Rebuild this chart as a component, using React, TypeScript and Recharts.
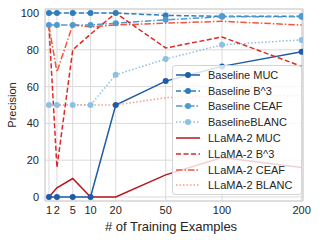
import React from 'react';
import {
  LineChart,
  Line,
  XAxis,
  YAxis,
  CartesianGrid,
  Legend,
  ReferenceArea,
} from 'recharts';

// training set sizes (x) and precision per metric (y)
const examples = [1, 2, 5, 10, 20, 50, 100, 200];
const baselineMuc = [0, 0, 0, 0, 50, 63, 71, 79];
const baselineB3 = [100, 100, 100, 100, 100, 98.7, 98.2, 98.2];
const baselineCeaf = [93.5, 93.5, 93.5, 93.5, 94.5, 96.3, 98, 98];
const baselineBlanc = [50, 50, 50, 50, 66.4, 75, 82.7, 85.4];
const llamaMuc = [0, 5, 10, 0, 0, 12, 21.5, 16];
const llamaB3 = [93, 16, 80, 88.5, 100, 81, 87, 71];
const llamaCeaf = [93, 68, 93.5, 92.5, 93.5, 94.5, 95.5, 93.5];
const llamaBlanc = [50, 50, 50, 50, 50, 54, 55, 55];

const yTicks = [0, 20, 40, 60, 80, 100];
const X_DOMAIN: [number, number] = [0.63, 202];
const Y_DOMAIN: [number, number] = [-2.2, 102.2];

const FONT = '"Liberation Sans", Arial, sans-serif';

const data = examples.map((n, i) => ({
  n,
  bMuc: baselineMuc[i],
  bB3: baselineB3[i],
  bCeaf: baselineCeaf[i],
  bBlanc: baselineBlanc[i],
  lMuc: llamaMuc[i],
  lB3: llamaB3[i],
  lCeaf: llamaCeaf[i],
  lBlanc: llamaBlanc[i],
}));

const DASHED = '5 2.5';
const DASHDOT = '6.5 2 1.5 2';
const DOTTED = '1.5 2';

const series = [
  { key: 'bMuc', name: 'Baseline MUC', color: '#1d5ca8', dash: undefined, dot: true },
  { key: 'bB3', name: 'Baseline B^3', color: '#2f7dbd', dash: DASHED, dot: true },
  { key: 'bCeaf', name: 'Baseline CEAF', color: '#4f9bcf', dash: DASHDOT, dot: true },
  { key: 'bBlanc', name: 'BaselineBLANC', color: '#8ec0e2', dash: DOTTED, dot: true },
  { key: 'lMuc', name: 'LLaMA-2 MUC', color: '#b8161c', dash: undefined, dot: false },
  { key: 'lB3', name: 'LLaMA-2 B^3', color: '#dc2a26', dash: DASHED, dot: false },
  { key: 'lCeaf', name: 'LLaMA-2 CEAF', color: '#f2553d', dash: DASHDOT, dot: false },
  { key: 'lBlanc', name: 'LLaMA-2 BLANC', color: '#fb9e80', dash: DOTTED, dot: false },
];

function renderLegend() {
  return (
    <div
      style={{
        width: 128,
        padding: '1px 0',
        background: 'rgba(255,255,255,0.8)',
        border: '1px solid #d4d4d4',
        borderRadius: 3,
        fontFamily: FONT,
        fontSize: 11,
        color: '#262626',
        textAlign: 'left',
      }}
    >
      {series.map((s) => (
        <div key={s.key} style={{ display: 'flex', alignItems: 'center', height: 15.8 }}>
          <svg width={33} height={10} style={{ marginLeft: 2 }}>
            <line
              x1={1}
              y1={5}
              x2={25}
              y2={5}
              stroke={s.color}
              strokeWidth={1.5}
              strokeDasharray={s.dash}
            />
            {s.dot && <circle cx={13} cy={5} r={3} fill={s.color} />}
          </svg>
          <span style={{ whiteSpace: 'nowrap' }}>{s.name}</span>
        </div>
      ))}
    </div>
  );
}

export default function App() {
  return (
    <div style={{ position: 'absolute', left: 0, top: 0, width: 320, height: 240, background: '#fff' }}>
      <LineChart
        width={320}
        height={240}
        data={data}
        margin={{ top: 9, right: 17, bottom: 0, left: 0 }}
      >
        <CartesianGrid stroke="#dadada" strokeWidth={1} />
        <ReferenceArea
          x1={X_DOMAIN[0]}
          x2={X_DOMAIN[1]}
          y1={Y_DOMAIN[0]}
          y2={Y_DOMAIN[1]}
          fill="none"
          stroke="#d0d0d0"
          strokeWidth={1}
        />
        <XAxis
          dataKey="n"
          type="number"
          scale="sqrt"
          domain={X_DOMAIN}
          allowDataOverflow
          ticks={examples}
          interval={0}
          height={39}
          tickLine={false}
          axisLine={false}
          tickSize={3}
          tickMargin={2}
          tick={{ fontSize: 11, fill: '#262626', fontFamily: FONT }}
          label={{
            value: '# of Training Examples',
            position: 'insideBottom',
            offset: 9,
            dx: -3,
            style: { fontSize: 13, fill: '#262626', fontFamily: FONT },
          }}
        />
        <YAxis
          type="number"
          domain={Y_DOMAIN}
          allowDataOverflow
          ticks={yTicks}
          width={45}
          tickLine={false}
          axisLine={false}
          tickSize={3}
          tickMargin={3}
          tick={{ fontSize: 11, fill: '#262626', fontFamily: FONT }}
          label={{
            value: 'Precision',
            angle: -90,
            position: 'insideLeft',
            offset: 12,
            style: { fontSize: 11, fill: '#262626', fontFamily: FONT, textAnchor: 'middle' },
          }}
        />
        {series.map((s) => (
          <Line
            key={s.key}
            type="linear"
            dataKey={s.key}
            name={s.name}
            stroke={s.color}
            strokeWidth={1.5}
            strokeDasharray={s.dash}
            dot={s.dot ? { r: 3, fill: s.color, stroke: 'none' } : false}
            activeDot={false}
            isAnimationActive={false}
          />
        ))}
        <Legend
          layout="horizontal"
          align="center"
          verticalAlign="middle"
          content={renderLegend}
          wrapperStyle={{ position: 'absolute', left: 172, top: 65, width: 130, height: 'auto', bottom: 'auto' }}
        />
      </LineChart>
    </div>
  );
}
